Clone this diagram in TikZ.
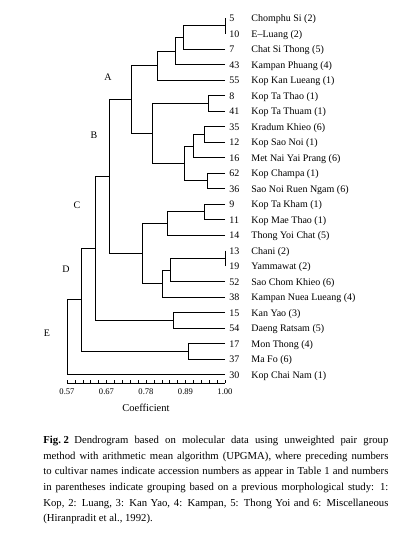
\documentclass[tikz,border=0pt]{standalone}
\usepackage{fontspec}
\setmainfont{Liberation Serif}
\usetikzlibrary{positioning}

\tikzset{
  acc/.style={anchor=west,inner sep=0pt,text height=7pt,text depth=0pt},
  cv/.style={anchor=west,inner sep=0pt,text height=7pt,text depth=0pt},
  grp/.style={inner sep=0pt,font=\fontsize{10}{12}\selectfont},
  tick/.style={inner sep=0pt,font=\fontsize{8.6}{10}\selectfont}
}

\begin{document}
\begin{tikzpicture}[x=1pt,y=-1pt,line width=0.8pt,every node/.style={font=\fontsize{10}{12}\selectfont}]
  \useasboundingbox (0,0) rectangle (393,539);

  \foreach \num/\name [count=\k from 0] in {5/Chomphu Si (2),10/E\textendash Luang (2),7/Chat Si Thong (5),
      43/Kampan Phuang (4),55/Kop Kan Lueang (1),8/Kop Ta Thao (1),41/Kop Ta Thuam (1),
      35/Kradum Khieo (6),12/Kop Sao Noi (1),16/Met Nai Yai Prang (6),62/Kop Champa (1),
      36/Sao Noi Ruen Ngam (6),9/Kop Ta Kham (1),11/Kop Mae Thao (1),14/Thong Yoi Chat (5),
      13/Chani (2),19/Yammawat (2),52/Sao Chom Khieo (6),38/Kampan Nuea Lueang (4),
      15/Kan Yao (3),54/Daeng Ratsam (5),17/Mon Thong (4),37/Ma Fo (6),30/Kop Chai Nam (1)}{
    \coordinate (l\num) at (225,18+15.5*\k);
    \node[acc] (a\num) at (229,18+15.5*\k) {\num};
    \node[cv] (c\num) at (251,18+15.5*\k) {\name};
  }

  \coordinate (q1) at (225,25.75);
  \coordinate (q2) at (183,37.4);
  \coordinate (q3) at (175,50.9);
  \coordinate (qA) at (157,65.5);
  \coordinate (q4) at (208,103.25);
  \coordinate (q5) at (204,134.25);
  \coordinate (q6) at (193,145.9);
  \coordinate (q7) at (207,180.75);
  \coordinate (q8) at (184,163.3);
  \coordinate (qB) at (152,133.3);
  \coordinate (qAB) at (131,99.4);
  \coordinate (q9) at (204,211.75);
  \coordinate (q10) at (167,223.4);
  \coordinate (q11) at (225,258.25);
  \coordinate (q12) at (170,269.9);
  \coordinate (q13) at (162,283.4);
  \coordinate (qC) at (142,253.4);
  \coordinate (qABC) at (109,176.4);
  \coordinate (q14) at (173,320.25);
  \coordinate (qD) at (95,248.3);
  \coordinate (q15) at (188,351.25);
  \coordinate (qE) at (81,299.8);
  \coordinate (root) at (67,337.1);

  \foreach \c/\p in {l5/q1,l10/q1,q1/q2,l7/q2,q2/q3,l43/q3,q3/qA,l55/qA,
      l8/q4,l41/q4,l35/q5,l12/q5,q5/q6,l16/q6,l62/q7,l36/q7,q6/q8,q7/q8,q4/qB,q8/qB,
      qA/qAB,qB/qAB,l9/q9,l11/q9,q9/q10,l14/q10,l13/q11,l19/q11,q11/q12,l52/q12,
      q12/q13,l38/q13,q10/qC,q13/qC,qAB/qABC,qC/qABC,l15/q14,l54/q14,qABC/qD,q14/qD,
      l17/q15,l37/q15,qD/qE,q15/qE,qE/root,l30/root}
    \draw (\c) -| (\p);

  \node[grp] (gA) at (108,77) {A};
  \node[grp] (gB) at (94,135) {B};
  \node[grp] (gC) at (77,205) {C};
  \node[grp] (gD) at (66,269) {D};
  \node[grp] (gE) at (47,333) {E};

  % coefficient axis
  \coordinate (ax0) at (67,383);
  \coordinate (ax1) at (225,383);
  \draw[line width=0.7pt] (ax0) -- (ax1);
  \foreach \i in {0,...,20}
    \draw[line width=0.6pt] (67+7.9*\i,383) -- ++(0,-3.5);
  \foreach \v [count=\i from 0] in {0.57,0.67,0.78,0.89,1.00}
    \node[tick] (t\i) at (67+39.5*\i,392) {\v};
  \node (coef) at (146,408) {\fontsize{10.5}{12}\selectfont Coefficient};

  \node[anchor=north west,inner sep=0pt,text width=345pt,align=justify,
        font=\fontsize{10.7}{15.7}\selectfont] (cap) at (43,435.5)
    {\mbox{\textbf{Fig.\kern0.25em2}}\enspace Dendrogram based on molecular data using unweighted pair group\linebreak
     method with arithmetic mean algorithm (UPGMA), where preceding numbers\linebreak
     to cultivar names indicate accession numbers as appear in Table 1 and numbers\linebreak
     in parentheses indicate grouping based on a previous morphological study: 1:\linebreak
     Kop, 2: Luang, 3: Kan Yao, 4: Kampan, 5: Thong Yoi and 6: Miscellaneous\linebreak
     (Hiranpradit et al., 1992).};
\end{tikzpicture}
\end{document}
